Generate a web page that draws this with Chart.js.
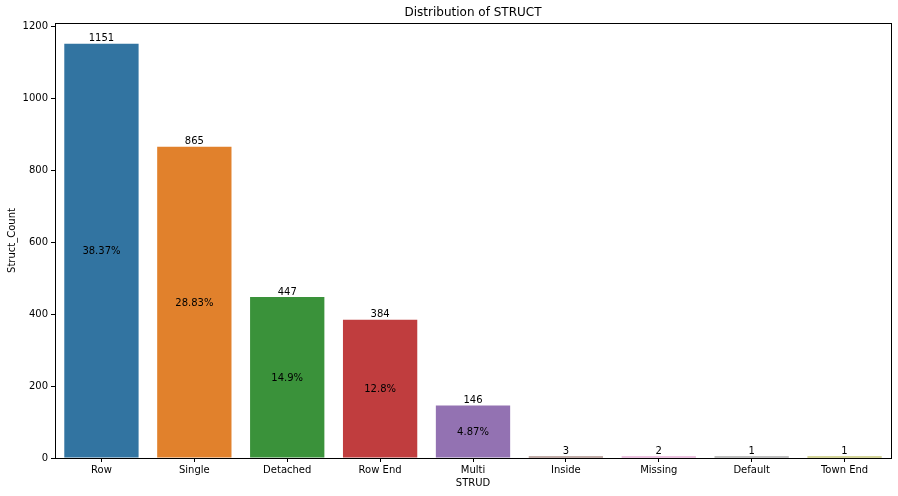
<!DOCTYPE html>
<html>
<head>
<meta charset="utf-8">
<script src="https://cdn.jsdelivr.net/npm/chart.js@4"></script>
<style>
  html, body { margin: 0; padding: 0; background: #fff; }
  #wrap { width: 898px; height: 496px; }
</style>
</head>
<body>
<div id="wrap"><canvas id="chart" width="898" height="496"></canvas></div>
<script>
const categories = ["Row", "Single", "Detached", "Row End", "Multi", "Inside", "Missing", "Default", "Town End"];
const counts = [1151, 865, 447, 384, 146, 3, 2, 1, 1];
const percents = ["38.37%", "28.83%", "14.9%", "12.8%", "4.87%", null, null, null, null];
const yTicks = [0, 200, 400, 600, 800, 1000, 1200];
const colors = ["#3274a1", "#e1812c", "#3a923a", "#c03d3e", "#9372b2", "#845b53", "#d684bd", "#7f7f7f", "#a9aa35"];

const font = "DejaVu Sans";

// value on top of each bar, share in the middle, and a box round the plot
const barLabels = {
  id: "barLabels",
  afterDatasetsDraw(chart) {
    const ctx = chart.ctx;
    const meta = chart.getDatasetMeta(0);
    ctx.save();
    ctx.fillStyle = "#000";
    ctx.font = `10px "${font}"`;
    ctx.textAlign = "center";
    meta.data.forEach((bar, i) => {
      ctx.textBaseline = "bottom";
      ctx.fillText(String(counts[i]), bar.x, Math.min(bar.y, bar.base - 1));
      if (percents[i]) {
        ctx.textBaseline = "middle";
        ctx.fillText(percents[i], bar.x, (bar.y + bar.base) / 2 + 1);
      }
    });
    const a = chart.chartArea;
    ctx.strokeStyle = "#000";
    ctx.lineWidth = 1;
    ctx.strokeRect(Math.round(a.left) + 0.5, Math.round(a.top) + 0.5,
      Math.round(a.right - a.left), Math.round(a.bottom - a.top));
    ctx.restore();
  },
};

new Chart(document.getElementById("chart"), {
  type: "bar",
  data: {
    labels: categories,
    datasets: [{
      data: counts,
      backgroundColor: colors,
      borderWidth: 0,
      minBarLength: 1.5,
      barPercentage: 0.8,
      categoryPercentage: 1.0,
    }],
  },
  options: {
    responsive: false,
    animation: false,
    layout: { padding: { top: 23, right: 7, left: 0, bottom: 0 } },
    plugins: {
      legend: { display: false },
      tooltip: { enabled: false },
      title: { display: false },
    },
    scales: {
      x: {
        grid: { display: true, drawOnChartArea: false, drawTicks: true, tickLength: 4, offset: false, color: "#000" },
        border: { display: true, color: "#000" },
        ticks: { color: "#000", font: { family: font, size: 10 }, padding: 2, maxRotation: 0 },
        title: { display: true, text: "STRUD", color: "#000", font: { family: font, size: 10 }, padding: { top: 0, bottom: 7 } },
        afterFit(scale) { scale.height = 38; },
      },
      y: {
        min: 0,
        max: 1208.55,
        grid: { display: true, drawOnChartArea: false, drawTicks: true, tickLength: 4, color: "#000" },
        border: { display: true, color: "#000" },
        ticks: { color: "#000", font: { family: font, size: 10 }, padding: 3, callback: (v) => String(v) },
        title: { display: true, text: "Struct_Count", color: "#000", font: { family: font, size: 10 }, padding: { top: 6, bottom: 0 } },
        afterBuildTicks(scale) { scale.ticks = yTicks.map((v) => ({ value: v })); },
        afterFit(scale) { scale.width = 55; },
      },
    },
  },
  plugins: [barLabels, {
    id: "topTitle",
    afterDraw(chart) {
      const ctx = chart.ctx;
      const a = chart.chartArea;
      ctx.save();
      ctx.fillStyle = "#000";
      ctx.font = `12px "${font}"`;
      ctx.textAlign = "center";
      ctx.textBaseline = "middle";
      ctx.fillText("Distribution of STRUCT", (a.left + a.right) / 2, 13);
      ctx.restore();
    },
  }],
});
</script>
</body>
</html>
